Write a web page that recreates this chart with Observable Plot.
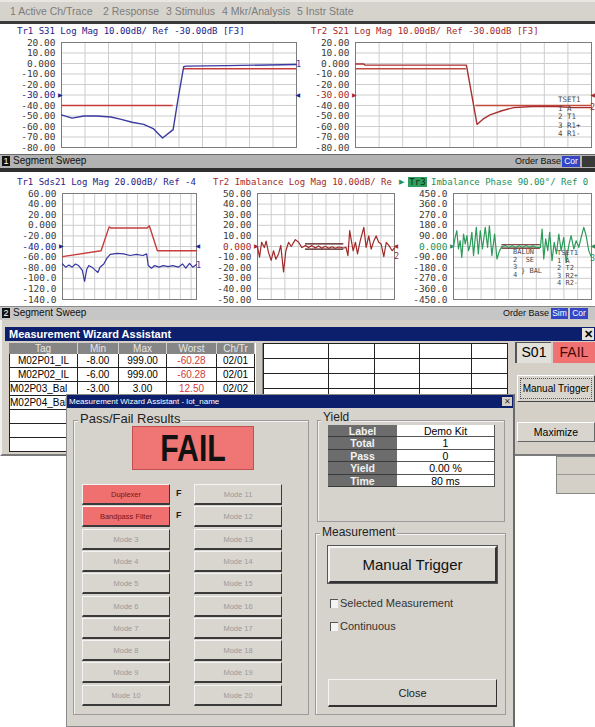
<!DOCTYPE html>
<html><head><meta charset="utf-8">
<script src="https://cdn.jsdelivr.net/npm/d3@7"></script>
<script src="https://cdn.jsdelivr.net/npm/@observablehq/plot@0.6"></script>
<style>
html,body{margin:0;padding:0;}
body{width:595px;height:727px;overflow:hidden;position:relative;background:#fff;font-family:"Liberation Sans",Arial,sans-serif;}
.a{position:absolute;box-sizing:border-box;white-space:nowrap;}
.mono{font-family:"DejaVu Sans Mono",monospace;font-size:9px;line-height:10px;white-space:pre;}
.tiny{font-family:"DejaVu Sans Mono",monospace;font-size:7px;line-height:7px;white-space:pre;color:#4a4a4a;}
</style></head><body>
<script>
// ---------------- DATA ----------------
const menuItems = ["1 Active Ch/Trace", "2 Response", "3 Stimulus", "4 Mkr/Analysis", "5 Instr State"];

// Channel 1 — Tr1 S31 (x in grid divisions, y in dB)
const s31X = [0, 0.45, 0.95, 1.5, 2.1, 2.5, 3.0, 3.5, 3.9, 4.3, 4.75, 4.95, 5.2, 5.3, 7.0, 10];
const s31Y = [-49, -52, -50, -50, -51, -53, -56, -58, -62, -71, -63, -35, -3, -2.5, -2, -1];
const s31LimX1 = [0, 5.2], s31LimX2 = [4.75, 10], s31LimY = [-40, -5];

// Channel 1 — Tr2 S21
const s21X = [0, 0.35, 0.4, 4.7, 5.15, 5.4, 5.7, 6.2, 6.7, 7.5, 8.5, 9.2, 10];
const s21Y = [-0.5, -0.5, -1.5, -1.5, -58, -53, -49, -45, -42, -41, -41, -42, -42];
const s21LimX1 = [0, 5.1], s21LimX2 = [4.7, 10], s21LimY = [-5, -40];

const ch1Ticks = [20, 10, 0, -10, -20, -30, -40, -50, -60, -70, -80];
const ch1Labels = ["20.00", "10.00", "0.000", "-10.00", "-20.00", "-30.00", "-40.00", "-50.00", "-60.00", "-70.00", "-80.00"];

// Channel 2 — Tr1 Sds21
const sdsX = [0, 0.3, 0.6, 0.9, 1.2, 1.5, 1.85, 2.06, 2.25, 2.45, 2.75, 3.08, 3.3, 3.5, 3.85, 4.15, 4.45, 5.1, 5.7, 6.3, 6.9, 7.5, 7.85, 8.0, 8.3, 8.6, 9.0, 9.4, 9.85, 10.3, 10.8, 11.2, 11.5, 11.85, 12.15, 12.5];
const sdsY = [-73, -79, -75, -79, -73, -76, -85, -106, -84, -76, -79, -85, -89, -79, -73, -62, -55, -53, -54, -57, -55, -57, -54, -76, -81, -76, -79, -76, -78, -76, -79, -73, -81, -72, -79, -74];
const sdsLimX = [0, 3.6, 4.35, 4.5, 7.9, 8.1, 8.85, 12.5];
const sdsLimY = [-59, -48, -3, -5, -5, -1, -48, -48];
const sdsTicks = [60, 40, 20, 0, -20, -40, -60, -80, -100, -120, -140];
const sdsLabels = ["60.00", "40.00", "20.00", "0.000", "-20.00", "-40.00", "-60.00", "-80.00", "-100.0", "-120.0", "-140.0"];

// Channel 2 — Tr2 Imbalance Log Mag
const imbX = [0, 0.15, 0.3, 0.5, 0.63, 0.8, 1.0, 1.17, 1.34, 1.54, 1.7, 1.9, 2.07, 2.27, 2.46, 2.76, 3.0, 3.24, 3.5,
  3.73, 3.98, 4.22, 4.46, 4.7, 4.95, 5.2, 5.44, 5.68, 5.93, 6.3,
  6.46, 6.6, 6.73, 6.85, 6.98, 7.15, 7.3, 7.5, 7.76, 7.93, 8.12, 8.3, 8.5, 8.66, 8.85, 9.02, 9.22, 9.4, 9.6, 9.83, 10];
const imbY = [-0.2, -10, 4, -1, 5, -5.5, -13, -4, -12, -7, 1, -24, -4, 4, 0, 6.5, 4, -1, 0.8,
  -0.8, 0.8, -1.4, 0.5, -1.7, 0.2, -1.7, -0.2, -1.7, -0.5, -1.4,
  -0.8, -8.6, 15, 5.5, -4, 4, -7, 5.5, 18, -0.8, 10, -2.4, 5.5, 10, 4, 2.4, -9.5, 4, 0.8, -4, -1.4];
const imbLimX1 = [3.5, 3.5], imbLimX2 = [6.3, 6.3], imbLimY = [2.5, -2.5];
const imbTicks = [50, 40, 30, 20, 10, 0, -10, -20, -30, -40, -50];
const imbLabels = ["50.00", "40.00", "30.00", "20.00", "10.00", "0.000", "-10.00", "-20.00", "-30.00", "-40.00", "-50.00"];

// Channel 2 — Tr3 Imbalance Phase
const phX = [0, 0.12, 0.24, 0.36, 0.48, 0.6, 0.73, 0.85, 0.97, 1.09, 1.2, 1.33, 1.45, 1.65, 1.8, 1.94, 2.1, 2.3, 2.47, 2.6, 2.78, 2.98, 3.15, 3.34, 3.5,
  3.75, 4.0, 4.25, 4.5, 4.75, 5.0, 5.25, 5.5, 5.75, 6.0,
  6.3, 6.42, 6.54, 6.68, 6.83, 6.97, 7.14, 7.3, 7.46, 7.63, 7.8, 7.99, 8.16, 8.35, 8.52, 8.72, 8.89, 9.08, 9.25, 9.44, 9.61, 9.8, 10];
const phY = [-1, 78, 134, -21, 49, -92, 106, 21, 92, -35, 7, 120, -77, 162, -63, 134, -21, 162, -7, 176, -77, 106, -106, -35, -1,
  8, -8, 6, -9, 7, -6, 9, -7, 5, -8,
  -7, 148, -106, 64, -35, 120, -120, 35, -63, 106, -35, 78, -134, 7, 92, -21, 49, -7, 78, 162, 92, -35, -92];
const phLimX1 = [3.5, 3.5], phLimX2 = [6.3, 6.3], phLimY = [15, -13];
const phTicks = [450, 360, 270, 180, 90, 0, -90, -180, -270, -360, -450];
const phLabels = ["450.0", "360.0", "270.0", "180.0", "90.00", "0.000", "-90.00", "-180.0", "-270.0", "-360.0", "-450.0"];

// Measurement table (cells hidden behind the dialog are left blank)
const tagHeaders = ["Tag", "Min", "Max", "Worst", "Ch/Tr"];
const tagCol = ["M02P01_IL", "M02P02_IL", "M02P03_Bal", "M02P04_Bal", "", "", ""];
const minCol = ["-8.00", "-6.00", "-3.00", "", "", "", ""];
const maxCol = ["999.00", "999.00", "3.00", "", "", "", ""];
const worstCol = ["-60.28", "-60.28", "12.50", "", "", "", ""];
const chtrCol = ["02/01", "02/01", "02/02", "", "", "", ""];

// Yield
const yieldLabels = ["Label", "Total", "Pass", "Yield", "Time"];
const yieldValues = ["Demo Kit", "1", "0", "0.00 %", "80 ms"];

// Pass/Fail modes
const modesLeft = ["Duplexer", "Bandpass Filter", "Mode 3", "Mode 4", "Mode 5", "Mode 6", "Mode 7", "Mode 8", "Mode 9", "Mode 10"];
const modesRight = ["Mode 11", "Mode 12", "Mode 13", "Mode 14", "Mode 15", "Mode 16", "Mode 17", "Mode 18", "Mode 19", "Mode 20"];
const modeStatus = ["F", "F", "", "", "", "", "", "", "", ""];

// ---------------- HELPERS ----------------
const B = document.body;
function el(css, text, cls) {
  const e = document.createElement("div");
  e.className = "a" + (cls ? " " + cls : "");
  e.style.cssText += css;
  if (text != null) e.textContent = text;
  B.appendChild(e);
  return e;
}
const pts = (xs, ys) => xs.map((x, i) => ({x, y: ys[i]}));
const segs = (x1, x2, y) => y.map((v, i) => ({x1: x1[i], x2: x2[i], y: v}));
const range = (a, b) => d3.range(a, b + 1);
const MONO = "DejaVu Sans Mono";

function chart(o) {
  const ticks = o.yTicks.map((v, i) => ({v, s: o.yLabels[i]}));
  const marks = [
    Plot.ruleX(o.xGrid, {x: d => d, stroke: "#cdcdcd", strokeWidth: 1}),
    Plot.ruleY(o.yTicks, {y: d => d, stroke: "#cdcdcd", strokeWidth: 1}),
    Plot.frame({stroke: "#7c7c7c"}),
    Plot.text(ticks.filter(d => d.v !== o.ref), {y: "v", text: "s", frameAnchor: "left", textAnchor: "end", dx: -6, fill: "#3a3a3a", fontFamily: MONO, fontSize: 9.5}),
    Plot.text(ticks.filter(d => d.v === o.ref), {y: "v", text: "s", frameAnchor: "left", textAnchor: "end", dx: -6, fill: o.refColor, fontFamily: MONO, fontSize: 9.5}),
    Plot.text([o.ref], {y: d => d, frameAnchor: "left", textAnchor: "end", dx: 1, text: () => "▶", fill: o.refColor, fontSize: 6, fontFamily: "DejaVu Sans"}),
    Plot.text([o.ref], {y: d => d, frameAnchor: "right", textAnchor: "start", dx: -1, text: () => "◀", fill: o.refColor, fontSize: 6, fontFamily: "DejaVu Sans"}),
    ...o.marks,
    Plot.text([o.numY], {y: d => d, frameAnchor: "right", textAnchor: "middle", dx: o.numDx, text: () => o.num, fill: o.numColor, fontFamily: MONO, fontSize: 8.5})
  ];
  const svg = Plot.plot({
    width: o.w, height: o.h,
    marginLeft: o.ml, marginRight: o.mr, marginTop: o.mt, marginBottom: o.mb,
    x: {domain: o.xDomain, axis: null},
    y: {domain: o.yDomain, axis: null},
    style: {background: "transparent", overflow: "visible"},
    marks
  });
  svg.style.position = "absolute";
  svg.style.left = o.left + "px";
  svg.style.top = o.top + "px";
  svg.style.maxWidth = "none";
  B.appendChild(svg);
}

// ---------------- MENU BAR ----------------
el("left:0;top:0;width:595px;height:21px;background:#d6d3cc;border-top:2px solid #e8e6e0;");
const menuPos = [10, 103, 166, 222, 297];
menuItems.forEach((t, i) => el(`left:${menuPos[i]}px;top:5px;font-size:10.5px;color:#7c7c7c;`, t));
el("left:0;top:21px;width:595px;height:3px;background:#3a3a3a;");

// ---------------- CHANNEL 1 ----------------
const NAVY = "#23238a", RED = "#a52a2a", GREEN = "#22925a";
chart({left: 0, top: 24, w: 298, h: 131, ml: 61, mr: 2, mt: 18, mb: 8,
  xDomain: [0, 10], xGrid: range(1, 9), yDomain: [-80, 20], yTicks: ch1Ticks, yLabels: ch1Labels,
  ref: -30, refColor: NAVY, num: "1", numY: -1, numDx: 2, numColor: "#3a3aa8",
  marks: [
    Plot.ruleY(segs(s31LimX1, s31LimX2, s31LimY), {y: "y", x1: "x1", x2: "x2", stroke: "#c83c3c", strokeWidth: 1.4}),
    Plot.line(pts(s31X, s31Y), {x: "x", y: "y", stroke: "#3a3aa0", strokeWidth: 1.4})
  ]});
chart({left: 298, top: 24, w: 297, h: 131, ml: 57, mr: 4, mt: 18, mb: 8,
  xDomain: [0, 10], xGrid: range(1, 9), yDomain: [-80, 20], yTicks: ch1Ticks, yLabels: ch1Labels,
  ref: -30, refColor: RED, num: "2", numY: -42, numDx: 1, numColor: RED,
  marks: [
    Plot.ruleY(segs(s21LimX1, s21LimX2, s21LimY), {y: "y", x1: "x1", x2: "x2", stroke: "#c04a3c", strokeWidth: 1.4}),
    Plot.line(pts(s21X, s21Y), {x: "x", y: "y", stroke: "#a83030", strokeWidth: 1.4})
  ]});
el(`left:17px;top:26px;color:${NAVY};`, "Tr1 S31 Log Mag 10.00dB/ Ref -30.00dB [F3]", "mono");
el(`left:311px;top:26px;color:${RED};`, "Tr2 S21 Log Mag 10.00dB/ Ref -30.00dB [F3]", "mono");
["TSET1", "1 A", "2 T1", "3 R1+", "4 R1-"].forEach((t, i) =>
  el(`left:558px;top:${96 + i * 8.5}px;font-size:7.5px;`, t, "tiny"));

// status bar ch1
el("left:0;top:154px;width:595px;height:14px;background:#b2b2b2;border-top:1px solid #6a6a6a;");
el("left:2px;top:156px;width:8px;height:10px;background:#111;color:#fff;font-size:9px;line-height:10px;text-align:center;", "1");
el("left:13px;top:155px;font-size:10px;line-height:12px;color:#111;", "Segment Sweep");
el("left:515px;top:155px;font-size:9px;line-height:12px;color:#111;", "Order Base");
el("left:562px;top:156px;width:18px;height:11px;background:#3446c4;color:#fff;font-size:8.5px;line-height:11px;text-align:center;", "Cor");
el("left:582px;top:156px;width:13px;height:11px;background:#3a3a3a;");
el("left:0;top:168px;width:595px;height:4px;background:#2e2e2e;");

// ---------------- CHANNEL 2 ----------------
chart({left: 0, top: 173, w: 200, h: 133, ml: 62, mr: 4, mt: 20, mb: 7,
  xDomain: [0, 12.5], xGrid: range(1, 12), yDomain: [-140, 60], yTicks: sdsTicks, yLabels: sdsLabels,
  ref: -40, refColor: NAVY, num: "1", numY: -76, numDx: 2, numColor: "#3a3aa8",
  marks: [
    Plot.line(pts(sdsLimX, sdsLimY), {x: "x", y: "y", stroke: "#c83c3c", strokeWidth: 1.4}),
    Plot.line(pts(sdsX, sdsY), {x: "x", y: "y", stroke: "#3636a0", strokeWidth: 1.2})
  ]});
chart({left: 200, top: 173, w: 200, h: 133, ml: 57, mr: 6, mt: 20, mb: 7,
  xDomain: [0, 10], xGrid: range(1, 9), yDomain: [-50, 50], yTicks: imbTicks, yLabels: imbLabels,
  ref: 0, refColor: RED, num: "2", numY: -9, numDx: 2, numColor: RED,
  marks: [
    Plot.ruleY(segs(imbLimX1, imbLimX2, imbLimY), {y: "y", x1: "x1", x2: "x2", stroke: "#4a1212", strokeWidth: 1.2}),
    Plot.line(pts(imbX, imbY), {x: "x", y: "y", stroke: "#a02828", strokeWidth: 1.2})
  ]});
chart({left: 400, top: 173, w: 195, h: 133, ml: 53, mr: 4, mt: 20, mb: 7,
  xDomain: [0, 10], xGrid: range(1, 9), yDomain: [-450, 450], yTicks: phTicks, yLabels: phLabels,
  ref: 0, refColor: GREEN, num: "3", numY: -100, numDx: 1, numColor: GREEN,
  marks: [
    Plot.ruleY(segs(phLimX1, phLimX2, phLimY), {y: "y", x1: "x1", x2: "x2", stroke: "#5a1414", strokeWidth: 1.2}),
    Plot.line(pts(phX, phY), {x: "x", y: "y", stroke: "#2c9a58", strokeWidth: 1.2})
  ]});
el(`left:17px;top:177px;color:${NAVY};`, "Tr1 Sds21 Log Mag 20.00dB/ Ref -4", "mono");
el(`left:213px;top:177px;color:${RED};`, "Tr2 Imbalance Log Mag 10.00dB/ Re", "mono");
el(`left:399px;top:177px;color:${GREEN};font-size:7px;line-height:10px;`, "▶");
el(`left:408px;top:177px;width:19px;height:10px;background:#2f9e5c;color:#0c2a16;text-align:center;`, "Tr3", "mono");
el(`left:431px;top:177px;color:${GREEN};`, "Imbalance Phase 90.00°/ Ref 0", "mono");
["BALUN", "2  SE", "3", "4"].forEach((t, i) =>
  el(`left:513px;top:${249 + i * 7.5}px;`, t, "tiny"));
el("left:521px;top:268px;", "} BAL", "tiny");
["TSET1", "1 A", "2 T2", "3 R2+", "4 R2-"].forEach((t, i) =>
  el(`left:557px;top:${250 + i * 7.5}px;`, t, "tiny"));

// status bar ch2
el("left:0;top:306px;width:595px;height:14px;background:#c6c6c6;border-top:1px solid #8a8a8a;");
el("left:2px;top:308px;width:8px;height:10px;background:#111;color:#fff;font-size:9px;line-height:10px;text-align:center;", "2");
el("left:13px;top:307px;font-size:10px;line-height:12px;color:#111;", "Segment Sweep");
el("left:503px;top:307px;font-size:9px;line-height:12px;color:#111;", "Order Base");
el("left:551px;top:308px;width:17px;height:11px;background:#3446c4;color:#fff;font-size:8.5px;line-height:11px;text-align:center;", "Sim");
el("left:570px;top:308px;width:18px;height:11px;background:#3446c4;color:#fff;font-size:8.5px;line-height:11px;text-align:center;", "Cor");

// ---------------- MAIN WIZARD WINDOW ----------------
el("left:0;top:320px;width:595px;height:136px;background:#d4d0c8;border-left:2px solid #f0f0f0;border-bottom:2px solid #7a7a7a;");
el("left:5px;top:327px;width:590px;height:14px;background:#0c1f6c;color:#fff;font-weight:bold;font-size:11px;line-height:14px;padding-left:4px;", "Measurement Wizard Assistant");
el("left:582px;top:328px;width:12px;height:12px;background:#e4e2dc;color:#000;font-weight:bold;font-size:11px;line-height:12px;text-align:center;", "✕");
const colX = [9, 78, 119, 167, 217, 255];
const cols = [tagCol, minCol, maxCol, worstCol, chtrCol];
tagHeaders.forEach((h, c) => el(`left:${colX[c]}px;top:343px;width:${colX[c + 1] - colX[c]}px;height:11px;background:#868686;color:#e6e6e6;font-size:10px;line-height:11px;text-align:center;border-right:1px solid #d0d0d0;`, h));
tagCol.forEach((_, r) => cols.forEach((col, c) =>
  el(`left:${colX[c]}px;top:${354 + r * 14}px;width:${colX[c + 1] - colX[c]}px;height:14px;background:#fff;border-right:1px solid #222;border-bottom:1px solid #222;${c === 0 ? "border-left:1px solid #222;" : ""}font-size:10px;line-height:13px;text-align:${c === 0 && r > 1 ? "left" : "center"};overflow:hidden;color:${c === 3 ? "#d23a3a" : "#000"};`, col[r])));
el("left:255px;top:343px;width:8px;height:109px;background:#c8c5be;border-left:1px solid #fff;border-right:1px solid #888;");
el("left:263px;top:343px;width:245px;height:109px;background:#fff;border:1px solid #222;");
[358, 373, 388, 403, 418, 433].forEach(y => el(`left:263px;top:${y}px;width:245px;height:1px;background:#222;`));
[328, 374, 419, 471].forEach(x => el(`left:${x}px;top:343px;width:1px;height:109px;background:#222;`));
el("left:515px;top:342px;width:36px;height:21px;background:#e2e0da;border-left:2px solid #555;border-top:1px solid #555;font-size:14px;line-height:19px;text-align:center;", "S01");
el("left:553px;top:342px;width:42px;height:21px;background:#f07272;color:#4a0808;font-size:14px;line-height:21px;text-align:center;", "FAIL");
el("left:517px;top:375px;width:78px;height:27px;background:#d8d5ce;border:1px solid;border-color:#fff #444 #444 #fff;font-size:10px;line-height:25px;text-align:center;outline:1px dotted #555;outline-offset:-4px;", "Manual Trigger");
el("left:517px;top:422px;width:78px;height:20px;background:#d8d5ce;border:1px solid;border-color:#fff #666 #666 #fff;font-size:10.5px;line-height:18px;text-align:center;", "Maximize");
el("left:556px;top:456px;width:39px;height:38px;background:#d4d0c8;border:1px solid #888;border-right:none;");
el("left:557px;top:474px;width:38px;height:1px;background:#999;");

// ---------------- DIALOG ----------------
el("left:66px;top:394px;width:449px;height:333px;background:#d6d3cd;border:1px solid #8a8a8a;border-right:2px solid #6a6a6a;");
el("left:67px;top:395px;width:446px;height:13px;background:#0c1f6c;color:#fff;font-size:8px;line-height:13px;padding-left:2px;", "Measurement Wizard Assistant - lot_name");
el("left:502px;top:397px;width:10px;height:9px;background:#d4d0c8;color:#333;font-size:8px;line-height:9px;text-align:center;", "✕");

// Pass/Fail group
el("left:73px;top:420px;width:236px;height:295px;border:1px solid #9a9a9a;box-shadow:inset 1px 1px 0 #f4f4f4;");
el("left:78px;top:411px;padding:0 2px;background:#d6d3cd;font-size:13px;line-height:16px;color:#222;", "Pass/Fail Results");
const failBox = el("left:132px;top:426px;width:122px;height:44px;background:#f07575;border:1px solid #c05050;text-align:center;line-height:44px;");
const failTxt = document.createElement("span");
failTxt.textContent = "FAIL";
failTxt.style.cssText = "display:inline-block;font-size:36px;font-weight:bold;color:#111;transform:scaleX(0.84);";
failBox.appendChild(failTxt);
const btnCss = (x, y, fail) => `left:${x}px;top:${y}px;width:88px;height:21px;background:${fail ? "#f07070" : "#d9d6d0"};border:1px solid;border-color:#f4f4f4 #3a3a3a #3a3a3a #f4f4f4;border-bottom-width:2px;font-size:7.5px;line-height:19px;text-align:center;color:${fail ? "#7a1414" : "#9a9a9a"};`;
modesLeft.forEach((t, i) => {
  const y = 484 + i * 22.3;
  el(btnCss(82, y, modeStatus[i] === "F"), t);
  el(btnCss(194, y, false), modesRight[i]);
  if (modeStatus[i]) el(`left:176px;top:${y + 4}px;font-size:9px;font-weight:bold;color:#222;`, modeStatus[i]);
});

// Yield group
el("left:317px;top:420px;width:188px;height:102px;border:1px solid #9a9a9a;box-shadow:inset 1px 1px 0 #f4f4f4;");
el("left:321px;top:410px;padding:0 2px;background:#d6d3cd;font-size:12px;line-height:15px;color:#222;", "Yield");
yieldLabels.forEach((t, i) => {
  const y = 425 + i * 12.4;
  el(`left:328px;top:${y}px;width:69px;height:12.4px;background:#6c6c6c;color:#f2f2f2;font-weight:bold;font-size:10.5px;line-height:12px;text-align:center;border-bottom:1px solid #3a3a3a;overflow:hidden;`, t);
  el(`left:397px;top:${y}px;width:98px;height:12.4px;background:#fff;color:#000;font-size:10.5px;line-height:12px;text-align:center;border-bottom:1px solid #555;border-right:1px solid #555;overflow:hidden;`, yieldValues[i]);
});

// Measurement group
el("left:315px;top:533px;width:191px;height:182px;border:1px solid #9a9a9a;box-shadow:inset 1px 1px 0 #f4f4f4;");
el("left:320px;top:525px;padding:0 2px;background:#d6d3cd;font-size:12px;line-height:15px;color:#222;", "Measurement");
el("left:328px;top:546px;width:169px;height:37px;background:#d8d5cf;border:2px solid;border-color:#f4f4f4 #333 #333 #f4f4f4;outline:1px solid #555;font-size:15px;line-height:33px;text-align:center;color:#111;", "Manual Trigger");
[["Selected Measurement", 599], ["Continuous", 622]].forEach(([t, y]) => {
  el(`left:330px;top:${y}px;width:8px;height:9px;background:#f4f4f4;border-left:1px solid #555;border-top:1px solid #555;`);
  el(`left:340px;top:${y - 3}px;font-size:11px;line-height:14px;color:#333;`, t);
});
el("left:328px;top:679px;width:169px;height:28px;background:#d8d5cf;border:1px solid;border-color:#f4f4f4 #333 #333 #f4f4f4;border-bottom-width:2px;font-size:11px;line-height:26px;text-align:center;color:#222;", "Close");
</script>
</body></html>
